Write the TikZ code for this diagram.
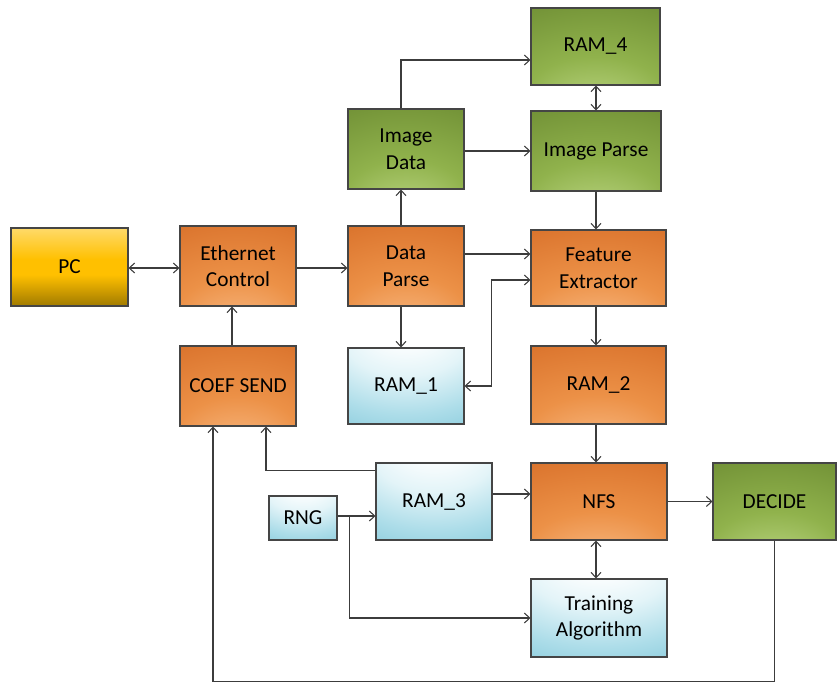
\documentclass[tikz,border=0pt]{standalone}
\usepackage{fontspec}
\setmainfont{Carlito}
\usetikzlibrary{arrows.meta,calc}

% palette
\definecolor{linegray}{HTML}{3C3C3C}
\definecolor{boxedge}{HTML}{454545}
\definecolor{orLight}{HTML}{FBD2B2}
\definecolor{orSoft}{HTML}{F5AE72}
\definecolor{orMid}{HTML}{EC9147}
\definecolor{orDeep}{HTML}{DD7831}
\definecolor{orDark}{HTML}{C45D14}
\definecolor{grLight}{HTML}{DDEBC2}
\definecolor{grSoft}{HTML}{AECB72}
\definecolor{grMid}{HTML}{90B24C}
\definecolor{grDeep}{HTML}{77973A}
\definecolor{grDark}{HTML}{5D7B2B}
\definecolor{blLight}{HTML}{FFFFFF}
\definecolor{blSoft}{HTML}{E3F4F8}
\definecolor{blMid}{HTML}{ADDDE9}
\definecolor{blDeep}{HTML}{79C3D6}
\definecolor{blDark}{HTML}{47A6C0}
\definecolor{pcBottom}{HTML}{A07A00}
\definecolor{pcMid}{HTML}{FFC000}
\definecolor{pcTop}{HTML}{FFDA6A}

% glow near the bottom edge
\pgfdeclareradialshading{orangeglow}{\pgfpoint{0bp}{-48bp}}{%
  color(0bp)=(orLight); color(12bp)=(orSoft); color(28bp)=(orMid);
  color(50bp)=(orDeep); color(72bp)=(orDark); color(100bp)=(orDark)}
\pgfdeclareradialshading{greenglow}{\pgfpoint{0bp}{-48bp}}{%
  color(0bp)=(grLight); color(12bp)=(grSoft); color(28bp)=(grMid);
  color(50bp)=(grDeep); color(72bp)=(grDark); color(100bp)=(grDark)}
% glow near the top edge
\pgfdeclareradialshading{blueglow}{\pgfpoint{0bp}{48bp}}{%
  color(0bp)=(blLight); color(12bp)=(blLight); color(28bp)=(blSoft);
  color(45bp)=(blMid); color(65bp)=(blDeep); color(85bp)=(blDark);
  color(100bp)=(blDark)}
\pgfdeclareverticalshading{pcgold}{100bp}{%
  color(0bp)=(pcBottom); color(25bp)=(pcBottom); color(45bp)=(pcMid);
  color(55bp)=(pcMid); color(75bp)=(pcTop); color(100bp)=(pcTop)}

\tikzset{
  blk/.style={draw=boxedge, line width=0.8pt, inner sep=0pt, align=center,
    text=black, font=\fontsize{16}{20}\selectfont, shade},
  sz/.style 2 args={minimum width=#1*0.75pt, minimum height=#2*0.75pt},
  orng/.style={blk, shading=orangeglow},
  grn/.style={blk, shading=greenglow},
  blu/.style={blk, shading=blueglow},
  gold/.style={blk, shading=pcgold},
  arr/.style={draw=linegray, line width=0.8pt,
    -{Straight Barb[length=4pt,width=7.5pt]}},
  dbl/.style={draw=linegray, line width=0.8pt,
    {Straight Barb[length=4pt,width=7.5pt]}-{Straight Barb[length=4pt,width=7.5pt]}}
}

\begin{document}
\begin{tikzpicture}[x=0.75pt,y=-0.75pt]
\useasboundingbox (0,0) rectangle (837,683);

% blocks
\node[gold, sz={117}{78}] (pc)   at (69.5,267)  {PC};
\node[orng, sz={116}{80}] (eth)  at (238,266)   {Ethernet\\Control};
\node[orng, sz={116}{80}] (coef) at (238,386)   {COEF SEND};
\node[orng, sz={116}{80}] (dp)   at (406,266)   {Data\\Parse};
\node[grn,  sz={116}{80}] (imd)  at (406,149)   {Image\\Data};
\node[grn,  sz={129}{77}] (r4)   at (595.5,46.5) {RAM\_4};
\node[grn,  sz={130}{80}] (ip)   at (596,151)   {Image Parse};
\node[orng, sz={135}{76}] (fe)   at (598.5,268) {Feature\\Extractor};
\node[blu,  sz={116}{76}] (r1)   at (406,386)   {RAM\_1};
\node[orng, sz={135}{78}] (r2)   at (598.5,385) {RAM\_2};
\node[blu,  sz={116}{77}] (r3)   at (434,501.5) {RAM\_3};
\node[blu,  sz={68}{44}]  (rng)  at (303,518)   {RNG};
\node[orng, sz={136}{77}] (nfs)  at (599,501.5) {NFS};
\node[blu,  sz={136}{78}] (tr)   at (599,618)   {Training\\Algorithm};
\node[grn,  sz={123}{77}] (dec)  at (774.5,501.5) {DECIDE};

% connections
\draw[dbl] ($(pc.east)+(0,1)$) -- ($(eth.west)+(0,2)$);
\draw[arr] ($(eth.east)+(0,2)$) -- ($(dp.west)+(0,2)$);
\draw[arr] ($(coef.north)+(-6,0)$) -- ($(eth.south)+(-6,0)$);
\draw[arr] ($(dp.north)+(-5,0)$) -- ($(imd.south)+(-5,0)$);
\draw[arr] ($(imd.north)+(-5,0)$) |- ($(r4.west)+(0,13.5)$);
\draw[arr] ($(imd.east)+(0,2)$) -- ($(ip.west)+(0,0)$);
\draw[dbl] (ip.north |- r4.south) -- (ip.north);
\draw[arr] (ip.south) -- (ip.south |- fe.north);
\draw[arr] ($(dp.east)+(0,-12)$) -- ($(fe.west)+(0,-14)$);
\draw[dbl] ($(fe.west)+(0,12)$) -- ++(-39,0) |- (r1.east);
\draw[arr] ($(dp.south)+(-5,0)$) -- ($(r1.north)+(-5,0)$);
\draw[arr] (ip.south |- fe.south) -- (ip.south |- r2.north);
\draw[arr] (ip.south |- r2.south) -- (ip.south |- nfs.north);
\draw[arr] ($(r3.north west)+(0,8)$) -| ($(coef.south)+(28,0)$);
\draw[arr] (dec.south) -- ++(0,141) -| ($(coef.south)+(-25,0)$);
\draw[arr] ($(rng.east)+(0,-2)$) -- ($(r3.west)+(0,14.5)$);
\draw[arr] ($(rng.east)+(12,-2)$) |- (tr.west);
\draw[arr] ($(r3.east)+(0,-7.5)$) -- ($(nfs.west)+(0,-7.5)$);
\draw[arr] (nfs.east) -- (dec.west);
\draw[dbl] (ip.south |- nfs.south) -- (ip.south |- tr.north);
\end{tikzpicture}
\end{document}
